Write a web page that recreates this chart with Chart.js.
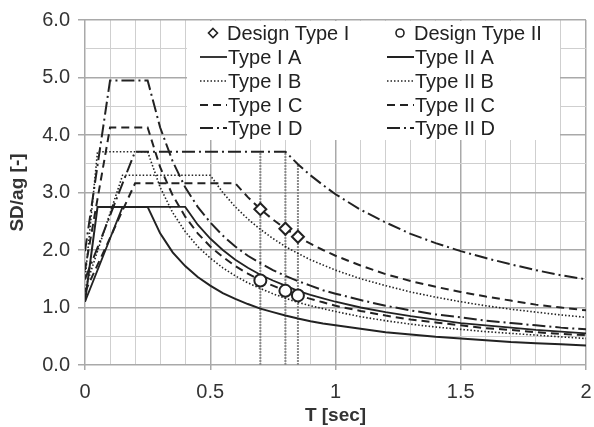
<!DOCTYPE html>
<html>
<head>
<meta charset="utf-8">
<script src="https://cdn.jsdelivr.net/npm/chart.js@4"></script>
<style>
  html, body { margin: 0; padding: 0; background: #fff; }
</style>
</head>
<body>
<canvas id="spectra" width="594" height="427"></canvas>
<script>
'use strict';

// ── Data ──────────────────────────────────────────────────────────────────────

const periods = [0, 0.05, 0.1, 0.15, 0.2, 0.25, 0.3, 0.35, 0.4, 0.45, 0.5, 0.55, 0.6, 0.65, 0.7, 0.75,
  0.8, 0.85, 0.9, 0.95, 1.0, 1.1, 1.2, 1.3, 1.4, 1.5, 1.6, 1.7, 1.8, 1.9, 2.0];

const typeIA  = [1.10, 1.65, 2.20, 2.75, 2.75, 2.75, 2.75, 2.75, 2.75, 2.44, 2.20, 2.00, 1.83, 1.69, 1.57, 1.47,
  1.38, 1.29, 1.22, 1.16, 1.10, 1.00, 0.92, 0.85, 0.79, 0.73, 0.69, 0.65, 0.61, 0.58, 0.55];
const typeIB  = [1.32, 1.98, 2.64, 3.30, 3.30, 3.30, 3.30, 3.30, 3.30, 3.30, 3.30, 3.00, 2.75, 2.54, 2.36, 2.20,
  2.06, 1.94, 1.83, 1.74, 1.65, 1.50, 1.38, 1.27, 1.18, 1.10, 1.03, 0.97, 0.92, 0.87, 0.83];
const typeIC  = [1.27, 1.74, 2.21, 2.69, 3.16, 3.16, 3.16, 3.16, 3.16, 3.16, 3.16, 3.16, 3.16, 2.92, 2.71, 2.53,
  2.37, 2.23, 2.11, 2.00, 1.90, 1.73, 1.58, 1.46, 1.36, 1.27, 1.19, 1.12, 1.05, 1.00, 0.95];
const typeID  = [1.49, 2.04, 2.60, 3.16, 3.71, 3.71, 3.71, 3.71, 3.71, 3.71, 3.71, 3.71, 3.71, 3.71, 3.71, 3.71,
  3.71, 3.49, 3.30, 3.13, 2.97, 2.70, 2.48, 2.28, 2.12, 1.98, 1.86, 1.75, 1.65, 1.56, 1.49];
const typeIIA = [1.10, 2.75, 2.75, 2.75, 2.75, 2.75, 2.29, 1.96, 1.72, 1.53, 1.38, 1.25, 1.15, 1.06, 0.98, 0.92,
  0.86, 0.81, 0.76, 0.72, 0.69, 0.63, 0.57, 0.53, 0.49, 0.46, 0.43, 0.40, 0.38, 0.36, 0.34];
const typeIIB = [1.49, 3.71, 3.71, 3.71, 3.71, 3.71, 3.09, 2.65, 2.32, 2.06, 1.86, 1.69, 1.55, 1.43, 1.33, 1.24,
  1.16, 1.09, 1.03, 0.98, 0.93, 0.84, 0.77, 0.71, 0.66, 0.62, 0.58, 0.55, 0.52, 0.49, 0.46];
const typeIIC = [1.65, 2.89, 4.13, 4.13, 4.13, 4.13, 3.44, 2.95, 2.58, 2.29, 2.06, 1.88, 1.72, 1.59, 1.47, 1.38,
  1.29, 1.21, 1.15, 1.09, 1.03, 0.94, 0.86, 0.79, 0.74, 0.69, 0.64, 0.61, 0.57, 0.54, 0.52];
const typeIID = [1.98, 3.47, 4.95, 4.95, 4.95, 4.95, 4.13, 3.54, 3.09, 2.75, 2.48, 2.25, 2.06, 1.90, 1.77, 1.65,
  1.55, 1.46, 1.38, 1.30, 1.24, 1.13, 1.03, 0.95, 0.88, 0.83, 0.77, 0.73, 0.69, 0.65, 0.62];

const designPeriods = [0.7, 0.8, 0.85];
const designTypeI   = [2.71, 2.37, 2.23];
const designTypeII  = [1.47, 1.29, 1.21];
const markerTops    = [3.71, 3.71, 3.49];

const xTicks = [0, 0.5, 1, 1.5, 2];
const yTicks = [0, 1, 2, 3, 4, 5, 6];

// ── Styles ───────────────────────────────────────────────────────────────────

const INK = '#222';
const FONT = "'Liberation Sans', Arial, sans-serif";
const SOLID = [];
const DOTTED = [1.5, 2];
const DASHED = [8, 5];
const DASHDOT = [13, 4, 2, 4];

function curve(label, ys, dash, width = 2) {
  return {
    label,
    data: periods.map((t, i) => ({ x: t, y: ys[i] })),
    borderColor: INK,
    borderWidth: width,
    borderDash: dash,
    pointRadius: 0,
    fill: false,
    tension: 0,
    order: 2,
  };
}

function marker(label, ys, style) {
  return {
    label,
    data: designPeriods.map((t, i) => ({ x: t, y: ys[i] })),
    showLine: false,
    pointStyle: style,
    pointRadius: 6,
    pointBorderWidth: 2,
    pointBorderColor: INK,
    pointBackgroundColor: '#fff',
    order: 0,
  };
}

const guideLines = designPeriods.map((t, i) => ({
  label: 'T = ' + t,
  data: [{ x: t, y: 0 }, { x: t, y: markerTops[i] }],
  borderColor: '#8a8a8a',
  borderWidth: 2,
  borderDash: [2, 1],
  pointRadius: 0,
  order: 3,
}));

const datasets = [
  curve('Type I A', typeIA, SOLID, 1.8),
  curve('Type I B', typeIB, DOTTED, 1.6),
  curve('Type I C', typeIC, DASHED),
  curve('Type I D', typeID, DASHDOT),
  curve('Type II A', typeIIA, SOLID),
  curve('Type II B', typeIIB, DOTTED, 1.6),
  curve('Type II C', typeIIC, DASHED),
  curve('Type II D', typeIID, DASHDOT),
  ...guideLines,
  marker('Design Type I', designTypeI, 'rectRot'),
  marker('Design Type II', designTypeII, 'circle'),
];

// ── Legend (two columns, drawn inside the plot) ──────────────────────────────

const legendRows = [
  ['Design Type I', 'Design Type II'],
  ['Type I A', 'Type II A'],
  ['Type I B', 'Type II B'],
  ['Type I C', 'Type II C'],
  ['Type I D', 'Type II D'],
];

const legendBox = {
  id: 'legendBox',
  afterDatasetsDraw(chart) {
    const ctx = chart.ctx;
    const box = { x: 187, y: 21, w: 373, h: 119 };
    const cols = [200, 387];
    const rowY = [33, 57, 81, 105, 128];
    ctx.save();
    ctx.fillStyle = '#fff';
    ctx.fillRect(box.x, box.y, box.w, box.h);
    ctx.font = '20px ' + FONT;
    ctx.textBaseline = 'middle';
    ctx.fillStyle = INK;
    legendRows.forEach((row, r) => {
      row.forEach((label, c) => {
        const ds = chart.data.datasets.find(d => d.label === label);
        const x0 = cols[c];
        const y = rowY[r];
        ctx.strokeStyle = INK;
        if (ds.showLine === false) {
          const cx = x0 + 13;
          ctx.lineWidth = 1.6;
          ctx.fillStyle = '#fff';
          ctx.beginPath();
          if (ds.pointStyle === 'circle') {
            ctx.arc(cx, y, 4, 0, Math.PI * 2);
          } else {
            ctx.moveTo(cx, y - 4.5);
            ctx.lineTo(cx + 4.5, y);
            ctx.lineTo(cx, y + 4.5);
            ctx.lineTo(cx - 4.5, y);
            ctx.closePath();
          }
          ctx.fill();
          ctx.stroke();
          ctx.fillStyle = INK;
          ctx.fillText(label, x0 + 27, y + 1);
        } else {
          ctx.lineWidth = ds.borderWidth;
          ctx.setLineDash(ds.borderDash);
          ctx.beginPath();
          ctx.moveTo(x0, y);
          ctx.lineTo(x0 + 27, y);
          ctx.stroke();
          ctx.setLineDash([]);
          ctx.fillText(label, x0 + 28, y + 1);
        }
      });
    });
    ctx.restore();
  },
};

// ── Chart ────────────────────────────────────────────────────────────────────

const isMajor = (v, step) => Math.abs(v / step - Math.round(v / step)) < 1e-6;

new Chart(document.getElementById('spectra'), {
  type: 'line',
  data: { datasets },
  options: {
    responsive: false,
    animation: false,
    layout: { padding: { top: 19, right: 0, left: 0, bottom: 0 } },
    plugins: {
      legend: { display: false },
      tooltip: { enabled: false },
    },
    scales: {
      x: {
        type: 'linear',
        min: 0, max: 2,
        afterFit: s => { s.height = 62; s.paddingRight = 7; },
        grid: {
          color: c => isMajor(c.tick.value, 0.5) ? '#a9a9a9' : '#cfcfcf',
          lineWidth: c => isMajor(c.tick.value, 0.5) ? 1.5 : 1,
          tickLength: 5,
          tickColor: c => isMajor(c.tick.value, 0.5) ? '#a9a9a9' : 'rgba(0,0,0,0)',
        },
        border: { display: false },
        ticks: {
          stepSize: 0.1,
          autoSkip: false,
          maxRotation: 0,
          padding: 10,
          color: '#333',
          font: { family: FONT, size: 20 },
          callback: v => xTicks.some(t => Math.abs(t - v) < 1e-6) ? String(Math.round(v * 2) / 2) : '',
        },
        title: {
          display: true,
          text: 'T [sec]',
          color: '#333',
          padding: { top: 0, bottom: 0 },
          font: { family: FONT, size: 19, weight: 'bold' },
        },
      },
      y: {
        min: 0, max: 6,
        afterFit: s => { s.width = 85; },
        grid: {
          color: c => isMajor(c.tick.value, 1) ? '#a9a9a9' : '#cfcfcf',
          lineWidth: c => isMajor(c.tick.value, 1) ? 1.5 : 1,
          tickLength: 7,
          tickColor: c => isMajor(c.tick.value, 1) ? '#a9a9a9' : 'rgba(0,0,0,0)',
        },
        border: { display: false },
        ticks: {
          stepSize: 0.5,
          autoSkip: false,
          padding: 8,
          color: '#333',
          font: { family: FONT, size: 20 },
          callback: v => yTicks.includes(v) ? v.toFixed(1) : '',
        },
        title: {
          display: true,
          text: 'SD/ag [-]',
          color: '#333',
          padding: { top: 6, bottom: 0 },
          font: { family: FONT, size: 19, weight: 'bold' },
        },
      },
    },
  },
  plugins: [legendBox],
});
</script>
</body>
</html>
